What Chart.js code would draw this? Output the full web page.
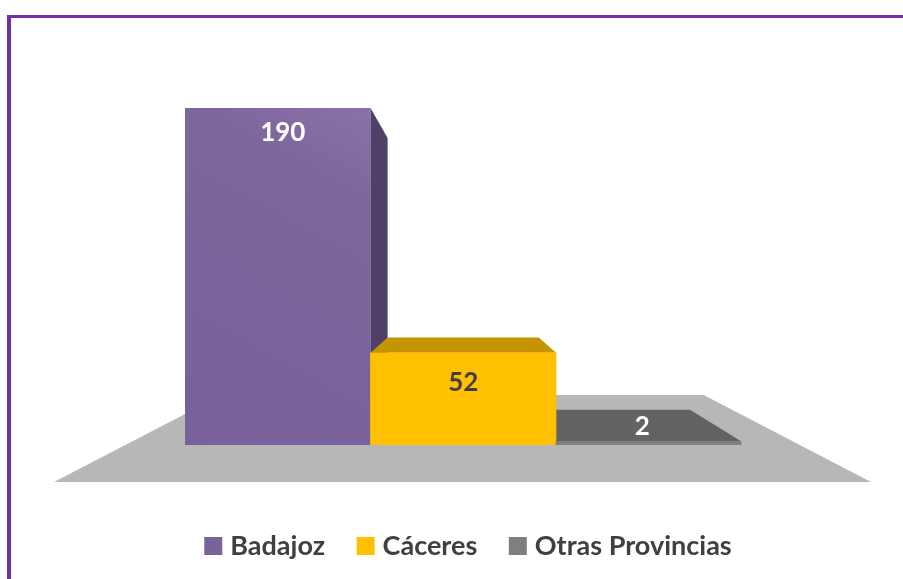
<!DOCTYPE html>
<html>
<head>
<meta charset="utf-8">
<style>
html,body{margin:0;padding:0;background:#fff;width:903px;height:579px;overflow:hidden}
#frame{position:absolute;left:7px;top:15px;right:0;bottom:0;border-top:3px solid #7030A8;border-left:4px solid #7030A8}
canvas{position:absolute;left:0;top:0}
</style>
</head>
<body>
<div id="frame"></div>
<canvas id="c" width="903" height="579"></canvas>
<script src="https://cdn.jsdelivr.net/npm/chart.js@4"></script>
<script>
const categories = ['Badajoz', 'Cáceres', 'Otras Provincias'];
const values = [190, 52, 2];
const frontColors = ['#7A6399', '#FFC000', '#7F7F7F'];
const sideColors = ['#4E4068', '#C49500', '#636363'];
const labelColors = ['#FFFFFF', '#404040', '#FFFFFF'];
const labelOffsetsY = [25, 30, -15];
const labelOffsetsX = [5, 0, -6.5];

const FONT = 'Lato, Carlito, "Open Sans", sans-serif';
const vanish = {x: 463, y: 270};
const barDepth = 0.185;
const floor = {left: 54, right: 871, y: 482, depth: 0.41, color: '#B7B7B7'};
const back = (x, y, t) => [x + (vanish.x - x) * t, y + (vanish.y - y) * t];

function poly(ctx, pts, color) {
  ctx.fillStyle = color;
  ctx.beginPath();
  pts.forEach((p, i) => i ? ctx.lineTo(p[0], p[1]) : ctx.moveTo(p[0], p[1]));
  ctx.closePath();
  ctx.fill();
}

const scene3d = {
  id: 'scene3d',
  afterLayout(chart) {
    const lg = chart.legend;
    lg.update(903, 100, {left: 0, right: 0, top: 0, bottom: 0});
    lg.left = 19.25; lg.right = 922.25; lg.width = 903;
    lg.top = 495.5; lg.bottom = 595.5;
  },
  beforeDatasetsDraw(chart) {
    const ctx = chart.ctx;
    const bars = chart.getDatasetMeta(0).data;
    ctx.save();
    poly(ctx, [
      [floor.left, floor.y], [floor.right, floor.y],
      back(floor.right, floor.y, floor.depth), back(floor.left, floor.y, floor.depth)
    ], floor.color);
    bars.forEach((bar, i) => {
      const right = bar.x + bar.width / 2, base = bar.base;
      if (right < vanish.x) {
        poly(ctx, [[right, bar.y], back(right, bar.y, barDepth), back(right, base, barDepth), [right, base]], sideColors[i]);
      }
    });
    bars.forEach((bar, i) => {
      const left = bar.x - bar.width / 2, right = bar.x + bar.width / 2;
      if (bar.y > vanish.y) {
        poly(ctx, [[left, bar.y], [right, bar.y], back(right, bar.y, barDepth), back(left, bar.y, barDepth)], sideColors[i]);
      }
    });
    ctx.restore();
  },
  afterDatasetsDraw(chart) {
    const ctx = chart.ctx;
    ctx.save();
    ctx.font = 'bold 26px ' + FONT;
    ctx.textAlign = 'center';
    ctx.textBaseline = 'middle';
    chart.getDatasetMeta(0).data.forEach((bar, i) => {
      ctx.fillStyle = labelColors[i];
      ctx.fillText(String(values[i]), bar.x + labelOffsetsX[i], bar.y + labelOffsetsY[i]);
    });
    ctx.restore();
  }
};

new Chart(document.getElementById('c'), {
  type: 'bar',
  data: {
    labels: categories,
    datasets: [{
      data: values,
      borderWidth: 0,
      barPercentage: 1,
      categoryPercentage: 1,
      backgroundColor(c) {
        if (c.dataIndex === 0 && c.chart.chartArea) {
          const a = c.chart.chartArea;
          const third = a.left + a.width / 3;
          const g = c.chart.ctx.createLinearGradient(a.left, a.bottom, third, a.top);
          g.addColorStop(0, '#78619A');
          g.addColorStop(0.77, '#7C669B');
          g.addColorStop(1, '#8872A8');
          return g;
        }
        return frontColors[c.dataIndex];
      }
    }]
  },
  options: {
    responsive: false,
    animation: false,
    layout: {padding: {left: 185, right: 161.5, top: 108, bottom: 34}},
    scales: {
      x: {display: false},
      y: {display: false, min: 0, max: 190}
    },
    plugins: {
      title: {display: false},
      tooltip: {enabled: false},
      legend: {
        display: true,
        position: 'bottom',
        maxHeight: 100,
        onClick: null,
        labels: {
          usePointStyle: true,
          boxWidth: 7,
          boxHeight: 18,
          padding: 37,
          color: '#404040',
          font: {family: FONT, size: 27, weight: 'bold'},
          generateLabels() {
            return categories.map((t, i) => ({
              text: t, fillStyle: frontColors[i], strokeStyle: frontColors[i],
              lineWidth: 0, pointStyle: 'rect', fontColor: '#404040', hidden: false, index: i
            }));
          }
        }
      }
    }
  },
  plugins: [scene3d]
});
</script>
</body>
</html>
